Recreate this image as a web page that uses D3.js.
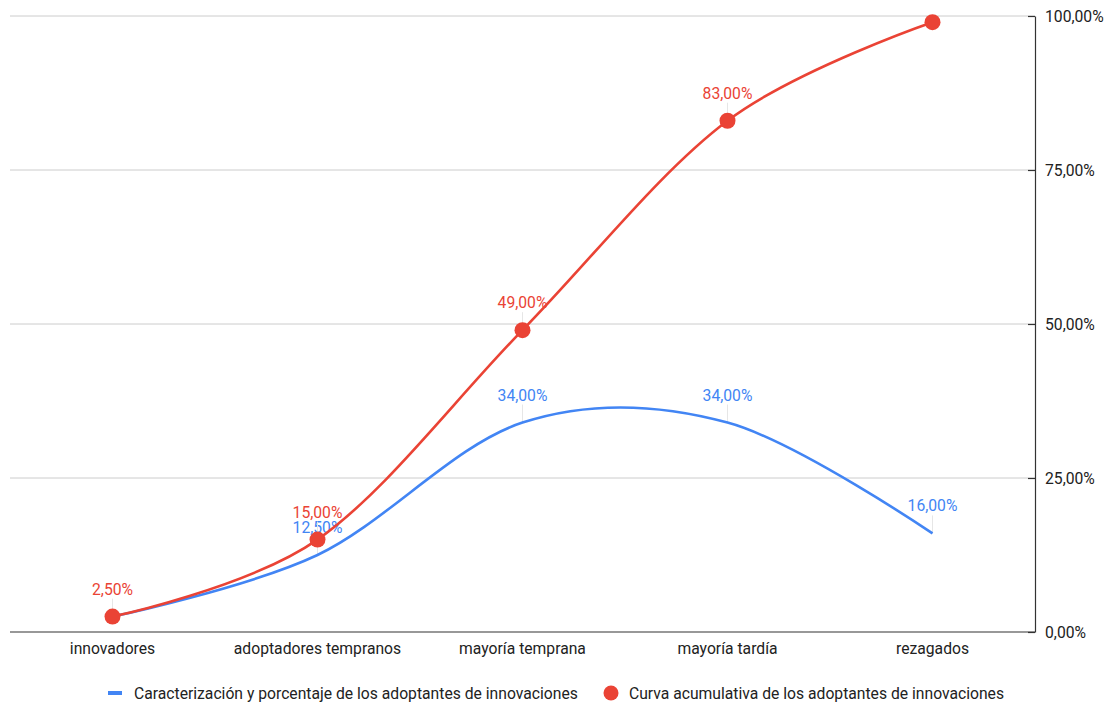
<!DOCTYPE html>
<html>
<head>
<meta charset="utf-8">
<script src="https://cdn.jsdelivr.net/npm/d3@7"></script>
<style>
  body { margin: 0; background: #fff; }
  svg { font-family: Roboto, Arial, sans-serif; }
</style>
</head>
<body>
<svg id="chart" width="1110" height="705"></svg>
<script>
// Categories of adopters along the x axis
const categories = ["innovadores", "adoptadores tempranos", "mayoría temprana", "mayoría tardía", "rezagados"];
// Share of adopters per category (%)
const adopterShare = [2.5, 12.5, 34, 34, 16];
// Cumulative share of adopters (%)
const adopterCumulative = [2.5, 15, 49, 83, 99];
// Which points carry a value label
const shareLabelShown = [false, true, true, true, true];
const cumulativeLabelShown = [true, true, true, true, false];
// Right axis ticks (%)
const yTicks = [0, 25, 50, 75, 100];

const seriesNames = [
  "Caracterización y porcentaje de los adoptantes de innovaciones",
  "Curva acumulativa de los adoptantes de innovaciones"
];
const blue = "#4285f4", red = "#ea4335";
const fontFamily = "Roboto, Arial, sans-serif";
const fontSize = "15.7px";

const svg = d3.select("#chart");
const plot = { left: 10, right: 1035, top: 16, bottom: 632 };

const x = d3.scaleBand().domain(categories).range([plot.left, plot.right]);
const y = d3.scaleLinear().domain([0, 100]).range([plot.bottom, plot.top]);
const cx = c => x(c) + x.bandwidth() / 2;
const fmt = v => d3.format(".2f")(v).replace(".", ",") + "%";

// Horizontal gridlines
svg.append("g").selectAll("line").data(yTicks.filter(t => t > 0)).join("line")
  .attr("x1", plot.left).attr("x2", plot.right)
  .attr("y1", d => y(d)).attr("y2", d => y(d))
  .attr("stroke", "#cccccc").attr("stroke-width", 1);

// Right axis
const yAxis = d3.axisRight(y).tickValues(yTicks).tickFormat(fmt).tickSize(0).tickPadding(10);
const gy = svg.append("g").attr("transform", `translate(${plot.right},0)`).call(yAxis);
gy.select(".domain").attr("stroke", "#333").attr("stroke-width", 1.2);
gy.selectAll(".tick text").attr("fill", "#222").style("font-size", fontSize).style("font-family", fontFamily);
gy.selectAll(".tick").append("line").attr("x1", -7).attr("x2", 0).attr("stroke", "#333").attr("stroke-width", 1.2);

// Baseline
svg.append("line").attr("x1", plot.left).attr("x2", plot.right).attr("y1", y(0)).attr("y2", y(0))
  .attr("stroke", "#333").attr("stroke-width", 1.2);

// Category labels
const xAxis = d3.axisBottom(x).tickSize(0).tickPadding(11);
const gx = svg.append("g").attr("transform", `translate(0,${plot.bottom})`).call(xAxis);
gx.select(".domain").remove();
gx.selectAll(".tick text").attr("fill", "#222").style("font-size", fontSize).style("font-family", fontFamily);

const line = d3.line()
  .x((d, i) => cx(categories[i]))
  .y(d => y(d))
  .curve(d3.curveCardinal.tension(0));

function drawLabels(values, shown, color) {
  const g = svg.append("g");
  values.forEach((v, i) => {
    if (!shown[i]) return;
    const px = cx(categories[i]), py = y(v);
    g.append("line").attr("x1", px).attr("x2", px).attr("y1", py - 18).attr("y2", py)
      .attr("stroke", "#e6e6e6").attr("stroke-width", 1);
    g.append("text").attr("x", px).attr("y", py - 22)
      .attr("text-anchor", "middle").attr("fill", color)
      .style("font-size", fontSize).text(fmt(v));
  });
}

// Value labels with leader lines sit under the curves
drawLabels(adopterShare, shareLabelShown, blue);
drawLabels(adopterCumulative, cumulativeLabelShown, red);

svg.append("path").datum(adopterShare).attr("d", line)
  .attr("fill", "none").attr("stroke", blue).attr("stroke-width", 2.6);
svg.append("path").datum(adopterCumulative).attr("d", line)
  .attr("fill", "none").attr("stroke", red).attr("stroke-width", 2.6);

svg.append("g").selectAll("circle").data(adopterCumulative).join("circle")
  .attr("cx", (d, i) => cx(categories[i])).attr("cy", d => y(d))
  .attr("r", 8).attr("fill", red);

// Legend
const lg = svg.append("g").attr("transform", "translate(0,693)");
lg.append("rect").attr("x", 108).attr("y", -2).attr("width", 14).attr("height", 4).attr("fill", blue);
lg.append("text").attr("x", 134).attr("y", 5.5).attr("fill", "#222").style("font-size", fontSize).text(seriesNames[0]);
lg.append("circle").attr("cx", 611).attr("cy", 0).attr("r", 7.5).attr("fill", red);
lg.append("text").attr("x", 629).attr("y", 5.5).attr("fill", "#222").style("font-size", fontSize).text(seriesNames[1]);
</script>
</body>
</html>
